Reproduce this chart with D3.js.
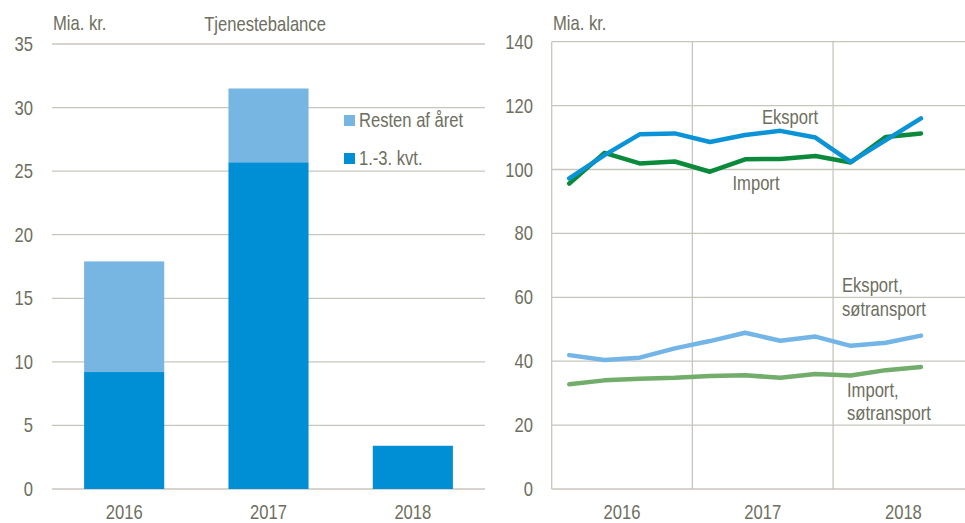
<!DOCTYPE html>
<html>
<head>
<meta charset="utf-8">
<script src="https://cdn.jsdelivr.net/npm/d3@7"></script>
<style>
  body { margin: 0; background: #fff; }
  svg { display: block; font-family: "Liberation Sans", Arial, sans-serif; }
</style>
</head>
<body>
<svg id="chart" width="965" height="523"></svg>
<script>
// Left panel: service balance
const years = ["2016", "2017", "2018"];
const firstThreeQ = [9.2, 25.7, 3.4];
const restOfYear = [8.7, 5.8, 0];
const leftTicks = [0, 5, 10, 15, 20, 25, 30, 35];

// Right panel: quarterly trade, 2016K1 - 2018K3
const quarters = ["2016K1", "2016K2", "2016K3", "2016K4", "2017K1", "2017K2", "2017K3", "2017K4",
                  "2018K1", "2018K2", "2018K3", "2018K4"];
const eksport = [97.2, 104.5, 111.0, 111.3, 108.6, 110.8, 112.1, 110.0, 102.4, 109.2, 116.0];
const importVals = [95.6, 105.2, 101.9, 102.5, 99.3, 103.2, 103.3, 104.2, 102.2, 110.2, 111.3];
const eksportSo = [41.9, 40.4, 41.1, 44.0, 46.3, 48.9, 46.4, 47.7, 44.8, 45.8, 48.0];
const importSo = [32.8, 34.0, 34.5, 34.8, 35.4, 35.6, 34.8, 36.0, 35.5, 37.2, 38.2];
const rightTicks = [0, 20, 40, 60, 80, 100, 120, 140];

const textCol = "#6e6e60";
const gridCol = "#c8c6bc";
const fontSize = 20;

const svg = d3.select("#chart");

// narrow-looking text: squeeze Liberation Sans horizontally
function label(g, x, y, t, anchor = "start", size = fontSize) {
    g.append("text")
        .attr("transform", `translate(${x},${y}) scale(0.83,1)`)
        .attr("text-anchor", anchor)
        .attr("fill", textCol)
        .style("font-size", size + "px")
        .text(t);
}

function drawBars() {
    const g = svg.append("g");
    const x = d3.scaleBand().domain(years).range([52, 485]).paddingInner(0.445).paddingOuter(0.2225);
    const y = d3.scaleLinear().domain([0, 35]).range([489, 44]);

    // gridlines
    g.selectAll(".grid").data(leftTicks).enter().append("line")
        .attr("x1", 52).attr("x2", 485)
        .attr("y1", d => y(d)).attr("y2", d => y(d))
        .attr("stroke", gridCol).attr("stroke-width", 1.3);

    leftTicks.forEach(d => label(g, 33, y(d) + 7, d, "end"));

    const stacked = years.map((yr, i) => ({yr, a: firstThreeQ[i], b: restOfYear[i]}));

    g.selectAll(".barA").data(stacked).enter().append("rect")
        .attr("x", d => x(d.yr)).attr("width", x.bandwidth())
        .attr("y", d => y(d.a)).attr("height", d => y(0) - y(d.a))
        .attr("fill", "#008fd5");

    g.selectAll(".barB").data(stacked.filter(d => d.b > 0)).enter().append("rect")
        .attr("x", d => x(d.yr)).attr("width", x.bandwidth())
        .attr("y", d => y(d.a + d.b)).attr("height", d => y(d.a) - y(d.a + d.b))
        .attr("fill", "#77b5e3");

    years.forEach(d => label(g, x(d) + x.bandwidth() / 2, 519, d, "middle"));

    label(g, 53, 30, "Mia. kr.");
    label(g, 265, 31, "Tjenestebalance", "middle");

    // legend
    const legend = [["Resten af året", "#77b5e3"], ["1.-3. kvt.", "#008fd5"]];
    legend.forEach(([t, col], i) => {
        const ly = 115 + i * 38;
        g.append("rect").attr("x", 344).attr("y", ly).attr("width", 11).attr("height", 11).attr("fill", col);
        label(g, 359, ly + 12, t);
    });
}

function drawLines() {
    const g = svg.append("g");
    const x = d3.scaleBand().domain(quarters).range([551.7, 551.7 + 12 * 35.17]);
    const y = d3.scaleLinear().domain([0, 140]).range([489, 41.7]);
    const xr = x.range();

    g.selectAll(".grid").data(rightTicks).enter().append("line")
        .attr("x1", xr[0]).attr("x2", xr[1])
        .attr("y1", d => y(d)).attr("y2", d => y(d))
        .attr("stroke", gridCol).attr("stroke-width", 1.3);

    // year separators and left axis
    const yearStarts = ["2016K1", "2017K1", "2018K1"];
    g.selectAll(".vgrid").data(yearStarts).enter().append("line")
        .attr("x1", d => x(d)).attr("x2", d => x(d))
        .attr("y1", y(0)).attr("y2", y(140))
        .attr("stroke", gridCol).attr("stroke-width", 1.3);

    rightTicks.forEach(d => label(g, 533, y(d) + 7, d, "end"));
    years.forEach(d => label(g, x(d + "K1") + 2 * x.bandwidth(), 519, d, "middle"));

    const line = d3.line()
        .x((d, i) => x(quarters[i]) + x.bandwidth() / 2)
        .y(d => y(d));

    const series = [
        [importSo, "#72ad6c"],
        [eksportSo, "#72b5e6"],
        [importVals, "#0a8a3a"],
        [eksport, "#0b93d8"]
    ];
    series.forEach(([vals, col]) => {
        g.append("path").attr("d", line(vals))
            .attr("fill", "none").attr("stroke", col).attr("stroke-width", 4.5)
            .attr("stroke-linejoin", "round").attr("stroke-linecap", "round");
    });

    label(g, 553, 30, "Mia. kr.");

    label(g, 790, 124, "Eksport", "middle");
    label(g, 756, 190, "Import", "middle");
    label(g, 842, 292, "Eksport,");
    label(g, 842, 316, "søtransport");
    label(g, 847, 397, "Import,");
    label(g, 847, 420, "søtransport");
}

drawBars();
drawLines();
</script>
</body>
</html>
